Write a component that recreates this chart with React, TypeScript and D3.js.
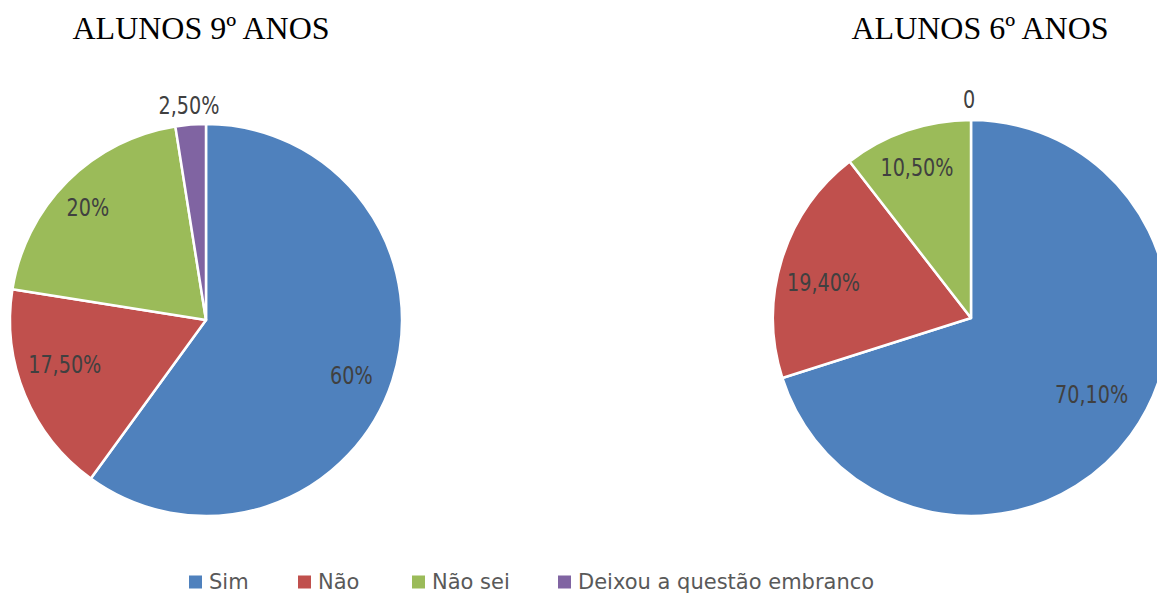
import React from "react";
import * as d3 from "d3";

const categories = ["Sim", "Não", "Não sei", "Deixou a questão embranco"];
const colors = ["#4F81BD", "#C0504D", "#9BBB59", "#8064A2"];
const values9 = [60, 17.5, 20, 2.5];
const labels9 = ["60%", "17,50%", "20%", "2,50%"];
const values6 = [70.1, 19.4, 10.5, 0];
const labels6 = ["70,10%", "19,40%", "10,50%", "0"];
const titles = ["ALUNOS 9º ANOS", "ALUNOS 6º ANOS"];

const W = 1157;
const H = 593;

// small label nudges (layout only) mimicking the spreadsheet's label placement
const nudge9: [number, number][] = [[0, 8], [0, -14], [-10, -4], [0, 2]];
const nudge6: [number, number][] = [[-4, -15], [0, 10], [-4, -4], [-2, 0]];

type PieProps = {
  cx: number; cy: number; r: number; values: number[]; labels: string[];
  title: string; titleX: number; nudges: [number, number][];
};

function Pie({ cx, cy, r, values, labels, title, titleX, nudges }: PieProps) {
  const pie = d3.pie<number>().sort(null).value((d) => d)(values);
  const arc = d3.arc<d3.PieArcDatum<number>>().innerRadius(0).outerRadius(r);
  const inLabel = d3.arc<d3.PieArcDatum<number>>().innerRadius(r * 0.78).outerRadius(r * 0.78);
  const outLabel = d3.arc<d3.PieArcDatum<number>>().innerRadius(r + 21).outerRadius(r + 21);
  return (
    <g>
      <text x={titleX} y={39} textAnchor="middle" fontFamily="'Liberation Serif', 'Times New Roman', serif" fontSize={32} fill="#000">
        {title}
      </text>
      <g transform={`translate(${cx},${cy})`}>
        {pie.map((d, i) =>
          d.endAngle - d.startAngle > 0 ? (
            <path key={i} d={arc(d) || ""} fill={colors[i]} stroke="#fff" strokeWidth={2.5} strokeLinejoin="round" />
          ) : null
        )}
        {pie.map((d, i) => {
          const outside = values[i] < 5;
          const [x, y] = (outside ? outLabel : inLabel).centroid(d);
          const [nx, ny] = nudges[i];
          return (
            <g key={"l" + i} transform={`translate(${x + nx},${y + ny}) scale(0.87,1)`}>
              <text x={0} y={0} textAnchor="middle" dominantBaseline="central"
                fontFamily="'DejaVu Sans Condensed', 'DejaVu Sans', sans-serif" fontSize={24.5} fill="#404040">
                {labels[i]}
              </text>
            </g>
          );
        })}
      </g>
    </g>
  );
}

const legendX = [189, 298, 412, 558];

export default function App() {
  return (
    <svg width={W} height={H} style={{ position: "absolute", left: 0, top: 0, background: "#fff" }}>
      <Pie cx={206} cy={320} r={196} values={values9} labels={labels9} title={titles[0]} titleX={201} nudges={nudge9} />
      <Pie cx={971} cy={318} r={198} values={values6} labels={labels6} title={titles[1]} titleX={980} nudges={nudge6} />
      <g>
        {categories.map((c, i) => (
          <g key={c} transform={`translate(${legendX[i]},582)`}>
            <rect x={0} y={-6.5} width={13} height={13} fill={colors[i]} />
            <text x={20} y={0} dominantBaseline="central" fontFamily="'DejaVu Sans', sans-serif" fontSize={21} fill="#595959">
              {c}
            </text>
          </g>
        ))}
      </g>
    </svg>
  );
}
